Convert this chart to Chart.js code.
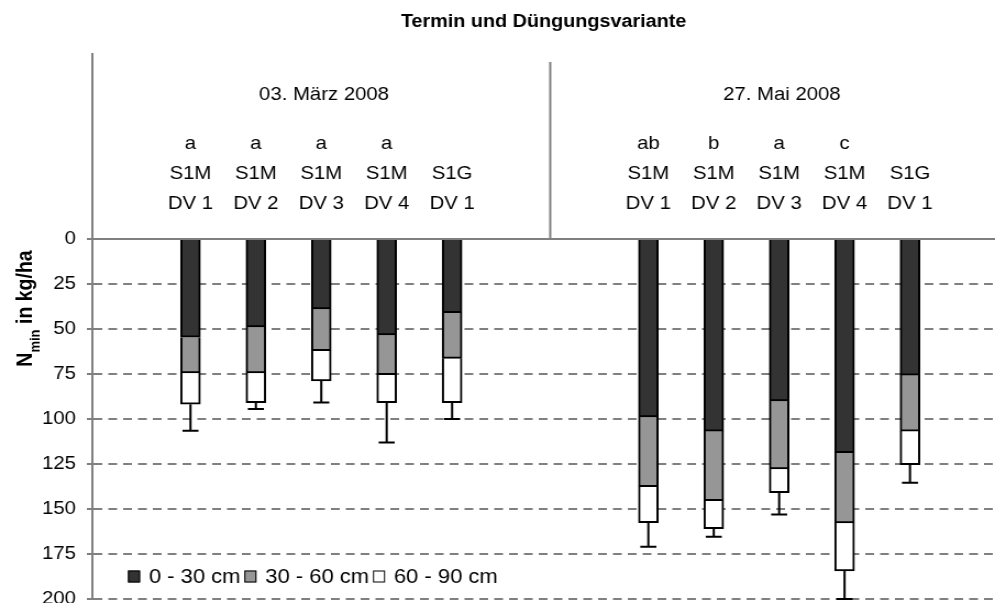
<!DOCTYPE html>
<html>
<head>
<meta charset="utf-8">
<script src="https://cdn.jsdelivr.net/npm/chart.js@4.4.1/dist/chart.umd.min.js"></script>
<style>
  html, body { margin: 0; padding: 0; background: #fff; overflow: hidden; }
</style>
</head>
<body>
<canvas id="chart" width="905" height="603" style="display:block;width:995px;height:603px"></canvas>
<script>
// data (kg/ha per soil layer)
const dates = ['03. März 2008', '27. Mai 2008'];
const variants = [['S1M', 'DV 1'], ['S1M', 'DV 2'], ['S1M', 'DV 3'], ['S1M', 'DV 4'], ['S1G', 'DV 1']];
const letters = ['a', 'a', 'a', 'a', '', 'ab', 'b', 'a', 'c', ''];
const seriesLabels = ['0 - 30 cm', '30 - 60 cm', '60 - 90 cm'];
const depth0_30 = [54.6, 48.9, 38.9, 53.3, 40.9, 98.9, 106.7, 90.0, 118.7, 75.6];
const depth30_60 = [19.8, 25.5, 23.1, 22.1, 25.4, 38.7, 38.7, 37.8, 39.1, 31.1];
const depth60_90 = [17.4, 16.5, 16.9, 15.5, 24.6, 20.0, 15.5, 13.1, 26.6, 18.7];
const errPlus = [14.7, 3.5, 12.0, 22.1, 9.1, 13.4, 4.5, 12.2, 15.6, 10.0];

// x slot: 5 bars per date, two empty slots between the dates
const perDate = variants.length;
const slot = i => Math.floor(i / perDate) * (perDate + 2) + (i % perDate) + 1;
const slots = letters.map((_, i) => slot(i));
const topLabels = letters.map((l, i) => [l, ...variants[i % perDate]]);
const dateSlots = dates.map((_, g) => slot(g * perDate + 2));
const divider = (slot(perDate - 1) + slot(perDate)) / 2;
const XMIN = -0.5, XMAX = 13.3;

const GRID = '#808080';
const fills = ['#333333', '#969696', '#ffffff'];

Chart.defaults.font.family = "'Liberation Sans', Arial, sans-serif";
Chart.defaults.color = '#000';

const noPad = s => { s.paddingLeft = 0; s.paddingRight = 0; s.paddingTop = 0; s.paddingBottom = 0; };

const errorBars = {
  id: 'errorBars',
  afterDatasetsDraw(chart) {
    const { ctx, scales: { y } } = chart;
    const meta = chart.getDatasetMeta(2);
    ctx.save();
    ctx.strokeStyle = '#000';
    ctx.lineWidth = 2;
    meta.data.forEach((bar, i) => {
      const total = depth0_30[i] + depth30_60[i] + depth60_90[i];
      const y0 = y.getPixelForValue(total);
      const y1 = y.getPixelForValue(total + errPlus[i]);
      ctx.beginPath();
      ctx.moveTo(bar.x, y0); ctx.lineTo(bar.x, y1);
      ctx.moveTo(bar.x - 7.3, y1); ctx.lineTo(bar.x + 7.3, y1);
      ctx.stroke();
    });
    ctx.restore();
  }
};

const header = {
  id: 'header',
  afterDraw(chart) {
    const { ctx, chartArea, scales: { x } } = chart;
    ctx.save();
    ctx.strokeStyle = GRID;
    ctx.lineWidth = 2;
    ctx.beginPath();
    ctx.moveTo(chartArea.left, 53); ctx.lineTo(chartArea.left, chartArea.top);
    const xd = x.getPixelForValue(divider);
    ctx.moveTo(xd, 62); ctx.lineTo(xd, chartArea.top);
    ctx.stroke();

    // y axis title with subscript
    const fam = Chart.defaults.font.family;
    const main = 'bold 19.5px ' + fam, sub = 'bold 13px ' + fam;
    ctx.font = main; const wN = ctx.measureText('N').width, wRest = ctx.measureText(' in kg/ha').width;
    ctx.font = sub; const wSub = ctx.measureText('min').width;
    const total = wN + wSub + wRest;
    ctx.translate(29.4, 308.5);
    ctx.rotate(-Math.PI / 2);
    ctx.fillStyle = '#000';
    ctx.textBaseline = 'alphabetic';
    let p = -total / 2;
    ctx.font = main; ctx.fillText('N', p, 0); p += wN;
    ctx.font = sub; ctx.fillText('min', p, 7); p += wSub;
    ctx.font = main; ctx.fillText(' in kg/ha', p, 0);
    ctx.restore();
  }
};

const boxLegend = {
  id: 'boxLegend',
  afterDraw(chart) {
    const { ctx } = chart;
    ctx.save();
    ctx.font = '20px ' + Chart.defaults.font.family;
    ctx.textBaseline = 'alphabetic';
    let x = 116.4;
    const base = 582.5;
    chart.data.datasets.forEach(ds => {
      ctx.fillStyle = ds.backgroundColor;
      ctx.fillRect(x, base - 12, 11, 12);
      ctx.strokeStyle = '#000'; ctx.lineWidth = 1;
      ctx.strokeRect(x + 0.5, base - 11.5, 10, 11);
      ctx.fillStyle = '#000';
      ctx.fillText(ds.label, x + 19, base);
      x += 19 + ctx.measureText(ds.label).width + 3.5;
    });
    ctx.restore();
  }
};

new Chart(document.getElementById('chart'), {
  type: 'bar',
  data: {
    datasets: [depth0_30, depth30_60, depth60_90].map((vals, k) => ({
      label: seriesLabels[k],
      data: vals.map((v, i) => ({ x: slots[i], y: v })),
      backgroundColor: fills[k],
      borderColor: '#000',
      borderWidth: 2,
      borderSkipped: 'start',
      barThickness: 18,
      xAxisID: 'x',
      yAxisID: 'y'
    }))
  },
  options: {
    responsive: false,
    animation: false,
    layout: { padding: { left: 0, right: 0, top: 0, bottom: 4 } },
    plugins: {
      legend: { display: false },
      tooltip: { enabled: false },
      title: {
        display: true,
        text: 'Termin und Düngungsvariante',
        fullSize: false,
        color: '#000',
        font: { size: 18, weight: 'bold', lineHeight: '20px' },
        padding: { top: 12, bottom: 8 }
      }
    },
    scales: {
      x: {
        type: 'linear', display: false, stacked: true, offset: false, bounds: 'data', min: XMIN, max: XMAX
      },
      xd: {
        type: 'linear', position: 'top', weight: 2, offset: false, min: XMIN, max: XMAX, bounds: 'data',
        grid: { display: true, offset: false, drawOnChartArea: false, drawTicks: false },
        border: { display: false },
        afterBuildTicks: s => { s.ticks = dateSlots.map(v => ({ value: v })); },
        afterFit: s => { s.height = 80; noPad(s); },
        ticks: {
          autoSkip: false, maxRotation: 0, padding: 15, labelOffset: 2.5,
          font: { size: 18.5, lineHeight: '20px' },
          callback: (v, i) => dates[i]
        }
      },
      xt: {
        type: 'linear', position: 'top', weight: 1, offset: false, min: XMIN, max: XMAX, bounds: 'data',
        grid: { display: true, offset: false, drawOnChartArea: false, drawTicks: false },
        border: { display: true, color: GRID, width: 2 },
        afterBuildTicks: s => { s.ticks = slots.map(v => ({ value: v })); },
        afterFit: s => { s.height = 119; noPad(s); },
        ticks: {
          autoSkip: false, maxRotation: 0, padding: 20,
          font: { size: 18.5, lineHeight: '30px' },
          callback: (v, i) => topLabels[i]
        }
      },
      y: {
        stacked: true,
        reverse: true,
        min: 0,
        max: 200,
        afterFit: s => { s.width = 84; noPad(s); },
        ticks: { stepSize: 25, padding: 10, font: { size: 18.5 } },
        grid: {
          color: c => (c.tick && c.tick.value === 0) ? 'rgba(0,0,0,0)' : GRID,
          lineWidth: 2,
          tickLength: 5,
          tickColor: GRID,
          tickWidth: 2
        },
        border: { color: GRID, width: 2, dash: [8, 5.5] }
      }
    }
  },
  plugins: [errorBars, header, boxLegend]
});
</script>
</body>
</html>
